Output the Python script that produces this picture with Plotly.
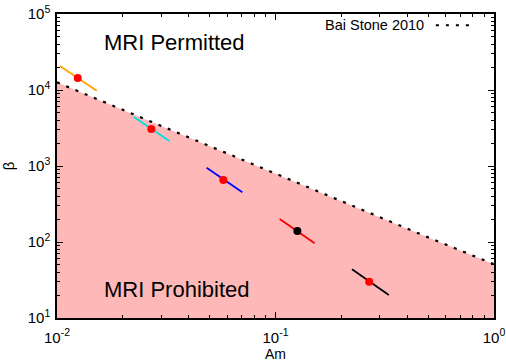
import plotly.graph_objects as go

# Bai & Stone 2010 boundary
bs_am = [0.01, 0.02, 0.05, 0.1, 0.2, 0.5, 1.0]
bs_beta = [12600, 5470, 1820, 790, 345, 115, 51]

# measurement points (x, y) and their segment end points
pt_am = [0.01244, 0.02702, 0.0577, 0.1259, 0.2685]
pt_beta = [14380, 3069, 654, 139.6, 30.0]
seg_am_lo = [0.01032, 0.02251, 0.0484, 0.1045, 0.224]
seg_beta_lo = [20700, 4415, 950, 201, 43.7]
seg_am_hi = [0.0152, 0.03267, 0.0705, 0.151, 0.330]
seg_beta_hi = [9790, 2133, 451, 96.1, 20.1]
seg_colors = ["#ffa500", "#00e0e0", "#0000ff", "#ff0000", "#000000"]
pt_colors = ["#ff0000", "#ff0000", "#ff0000", "#000000", "#ff0000"]

X_RANGE = [0.01, 1.0]
Y_RANGE = [10, 1e5]
x_tickvals = [0.01, 0.1, 1.0]
x_ticktext = ["10<sup>-2</sup>", "10<sup>-1</sup>", "10<sup>0</sup>"]
y_tickvals = [10, 100, 1000, 10000, 100000]
y_ticktext = ["10<sup>1</sup>", "10<sup>2</sup>", "10<sup>3</sup>", "10<sup>4</sup>", "10<sup>5</sup>"]

FONT = "Liberation Sans, Arial, sans-serif"

fig = go.Figure()

# shaded prohibited region
fig.add_trace(go.Scatter(
    x=bs_am + bs_am[::-1],
    y=bs_beta + [Y_RANGE[0]] * len(bs_am),
    fill="toself", fillcolor="#ffb8b8", mode="none",
    showlegend=False, hoverinfo="skip"))

# boundary line
fig.add_trace(go.Scatter(
    x=bs_am, y=bs_beta, mode="lines",
    line=dict(color="black", width=2.2, dash="3px,7px"),
    name="Bai Stone 2010", showlegend=False))

for i in range(len(pt_am)):
    fig.add_trace(go.Scatter(
        x=[seg_am_lo[i], seg_am_hi[i]], y=[seg_beta_lo[i], seg_beta_hi[i]],
        mode="lines", line=dict(color=seg_colors[i], width=1.8),
        showlegend=False))
    fig.add_trace(go.Scatter(
        x=[pt_am[i]], y=[pt_beta[i]], mode="markers",
        marker=dict(color=pt_colors[i], size=8, line=dict(width=0)),
        showlegend=False))

axis_common = dict(
    type="log", showline=True, linecolor="black", linewidth=1.5, mirror="allticks",
    ticks="inside", ticklen=6, tickcolor="black", tickwidth=1, showgrid=False, zeroline=False,
    automargin=False,
    tickfont=dict(family=FONT, size=15, color="black"),
    minor=dict(ticks="inside", ticklen=3, tickcolor="black", tickwidth=1, dtick="D1", showgrid=False),
)

fig.update_xaxes(**axis_common, range=[-2, 0], tickvals=x_tickvals, ticktext=x_ticktext,
                 ticklabelstandoff=5,
                 title=dict(text="Am", font=dict(family=FONT, size=14, color="black"), standoff=1))
fig.update_yaxes(**axis_common, range=[1, 5], tickvals=y_tickvals, ticktext=y_ticktext,
                 ticklabelstandoff=2,
                 title=dict(text="β", font=dict(family=FONT, size=15, color="black"), standoff=17))

fig.add_annotation(x=0.27, y=0.905, xref="paper", yref="paper", text="MRI Permitted",
                   xanchor="center", yanchor="middle",
                   showarrow=False, font=dict(family=FONT, size=22, color="black"))
fig.add_annotation(x=0.275, y=0.095, xref="paper", yref="paper", text="MRI Prohibited",
                   xanchor="center", yanchor="middle",
                   showarrow=False, font=dict(family=FONT, size=22, color="black"))

# legend drawn as text + sample line
fig.add_annotation(x=0.845, y=0.963, xref="paper", yref="paper", text="Bai Stone 2010",
                   xanchor="right", yanchor="middle",
                   showarrow=False, font=dict(family=FONT, size=14.5, color="black"))
fig.add_shape(type="line", xref="paper", yref="paper", x0=0.867, x1=0.95, y0=0.963, y1=0.963,
              line=dict(color="black", width=2.2, dash="3px,7px"))

fig.update_layout(
    width=506, height=362, margin=dict(l=57, r=12, t=14, b=44),
    paper_bgcolor="white", plot_bgcolor="white", showlegend=False,
)

fig.write_html("out.html")
